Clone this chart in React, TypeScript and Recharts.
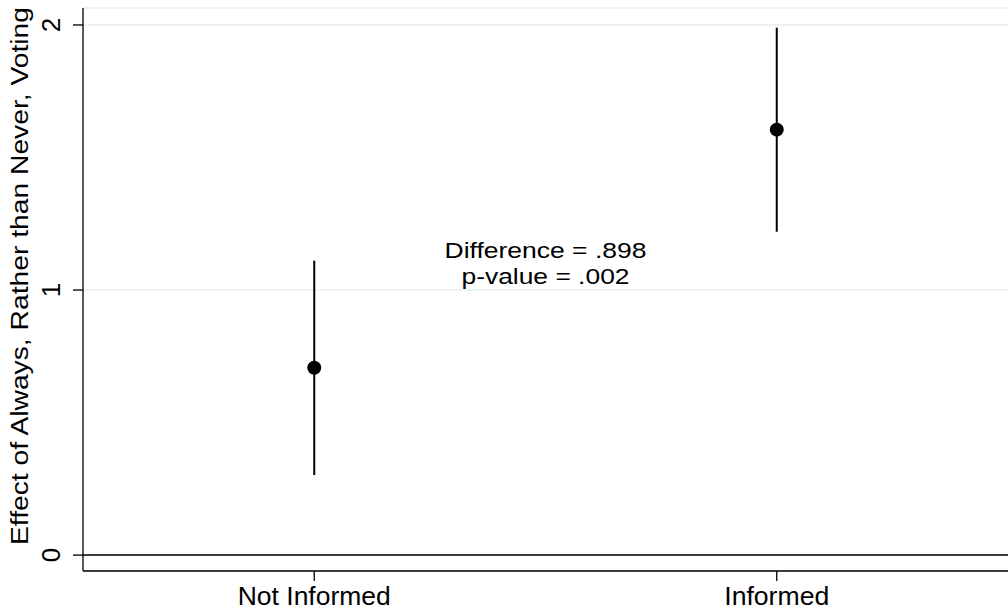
import {
  ComposedChart,
  Scatter,
  ErrorBar,
  XAxis,
  YAxis,
  CartesianGrid,
  ReferenceLine,
  ReferenceDot,
} from "recharts";

const categories = ["Not Informed", "Informed"];
const estimates = [0.707, 1.605];
const ciLow = [0.302, 1.22];
const ciHigh = [1.111, 1.99];
const yTicks = [0, 1, 2];
const xTicks = [0, 1];
const noteLines = ["Difference = .898", "p-value = .002"];
const yTitle = "Effect of Always, Rather than Never, Voting";

const FONT = "'Liberation Sans', Arial, Helvetica, sans-serif";

const data = categories.map((c, i) => ({
  x: i,
  name: c,
  y: estimates[i],
  err: [estimates[i] - ciLow[i], ciHigh[i] - estimates[i]],
}));

const YTick = ({ x, y, payload }: any) => {
  const bx = x - 11;
  return (
    <text
      x={bx}
      y={y}
      transform={`rotate(-90 ${bx} ${y})`}
      textAnchor="middle"
      fontFamily={FONT}
      fontSize={26}
      fill="#000"
    >
      {payload.value}
    </text>
  );
};

const XTick = ({ x, y, payload }: any) => (
  <text
    x={x}
    y={y + 22}
    textAnchor="middle"
    fontFamily={FONT}
    fontSize={25}
    textLength={payload.value === 0 ? 153 : 105}
    lengthAdjust="spacingAndGlyphs"
    fill="#000"
  >
    {categories[payload.value]}
  </text>
);

const YTitle = () => (
  <text
    x={28}
    y={276}
    transform="rotate(-90 28 276)"
    textAnchor="middle"
    fontFamily={FONT}
    fontSize={23}
    textLength={538}
    lengthAdjust="spacingAndGlyphs"
    fill="#000"
  >
    {yTitle}
  </text>
);

const Note = ({ cx, cy }: any) => (
  <g>
    <text
      x={cx}
      y={cy - 12}
      textAnchor="middle"
      fontFamily={FONT}
      fontSize={21.5}
      textLength={202}
      lengthAdjust="spacingAndGlyphs"
      fill="#000"
    >
      {noteLines[0]}
    </text>
    <text
      x={cx}
      y={cy + 14}
      textAnchor="middle"
      fontFamily={FONT}
      fontSize={21.5}
      textLength={168}
      lengthAdjust="spacingAndGlyphs"
      fill="#000"
    >
      {noteLines[1]}
    </text>
  </g>
);

export default function App() {
  return (
    <div style={{ position: "absolute", left: 0, top: 0, background: "#fff" }}>
      <ComposedChart
        width={1008}
        height={609}
        data={data}
        margin={{ top: 8, right: 0, bottom: 0, left: 0 }}
      >
        <CartesianGrid vertical={false} stroke="#e6eff2" strokeWidth={1.5} />
        <XAxis
          type="number"
          dataKey="x"
          domain={[-0.5, 1.5]}
          ticks={xTicks}
          allowDataOverflow
          height={38}
          tickSize={10}
          axisLine={{ stroke: "#000", strokeWidth: 1.3 }}
          tickLine={{ stroke: "#000", strokeWidth: 1.3 }}
          tick={<XTick />}
          interval={0}
        />
        <YAxis
          type="number"
          domain={[-0.06, 2.064]}
          ticks={yTicks}
          allowDataOverflow
          width={83}
          tickSize={10}
          axisLine={{ stroke: "#000", strokeWidth: 1.3 }}
          tickLine={{ stroke: "#000", strokeWidth: 1.3 }}
          tick={<YTick />}
          interval={0}
          label={{ content: () => <YTitle /> }}
        />
        <ReferenceLine y={0} stroke="#000" strokeWidth={1.5} />
        <Scatter
          dataKey="y"
          fill="#000"
          isAnimationActive={false}
          shape={(p: any) => <circle cx={p.cx} cy={p.cy} r={7} fill="#000" />}
        >
          <ErrorBar
            dataKey="err"
            direction="y"
            width={0}
            stroke="#000"
            strokeWidth={2}
            isAnimationActive={false}
          />
        </Scatter>
        <ReferenceDot x={0.5} y={1.075} r={0} shape={(p: any) => <Note {...p} />} />
      </ComposedChart>
    </div>
  );
}
